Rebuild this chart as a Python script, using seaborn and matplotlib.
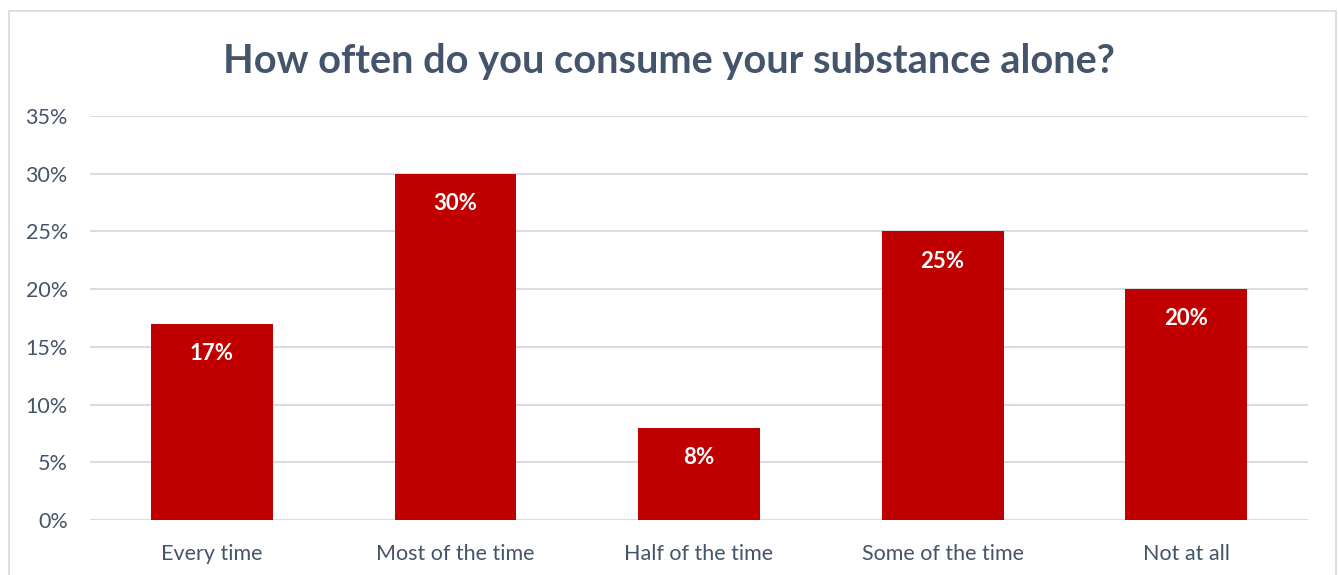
import matplotlib
matplotlib.use("Agg")
import matplotlib.pyplot as plt
import seaborn as sns
import pandas as pd
from matplotlib.patches import Rectangle
from matplotlib.ticker import PercentFormatter

categories = ["Every time", "Most of the time", "Half of the time", "Some of the time", "Not at all"]
values = [17, 30, 8, 25, 20]
yticks = [0, 5, 10, 15, 20, 25, 30, 35]

sns.set_theme(style="white")
plt.rcParams["font.family"] = ["Lato", "DejaVu Sans"]

TEXT = "#44546A"
BAR = "#C00000"
GRID = "#D9DDE3"

df = pd.DataFrame({"cat": categories, "val": values})

fig = plt.figure(figsize=(13.38, 5.75), dpi=100)
ax = fig.add_axes([90/1338, 1-520/575, (1308-90)/1338, (520-116)/575])

sns.barplot(data=df, x="cat", y="val", color=BAR, width=0.5, ax=ax, saturation=1,
            zorder=3, edgecolor=BAR, linewidth=0)

ax.set_ylim(0, 35)
ax.set_xlim(-0.5, 4.5)
ax.set_yticks(yticks)
ax.yaxis.set_major_formatter(PercentFormatter(decimals=0))
ax.grid(axis="y", color=GRID, linewidth=1.5, zorder=0)
ax.set_axisbelow(True)
for s in ax.spines.values():
    s.set_visible(False)
ax.set_xlabel("")
ax.set_ylabel("")
ax.tick_params(axis="both", length=0, labelsize=15.5, labelcolor=TEXT)
ax.tick_params(axis="y", pad=16)
ax.tick_params(axis="x", pad=17)

for c in ax.containers:
    ax.bar_label(c, labels=[f"{v}%" for v in values], label_type="edge", padding=-29,
                 color="white", fontsize=16, fontweight="bold")

fig.text(0.5, 1-61/575, "How often do you consume your substance alone?", ha="center", va="center",
         fontsize=28.6, fontweight="bold", color=TEXT)

fig.patches.append(Rectangle((9/1338, -0.05), (1336-9)/1338, 1.05-11/575, transform=fig.transFigure,
                             fill=False, edgecolor="#D9D9D9", linewidth=1.2))

fig.savefig("out.png", dpi=100)
